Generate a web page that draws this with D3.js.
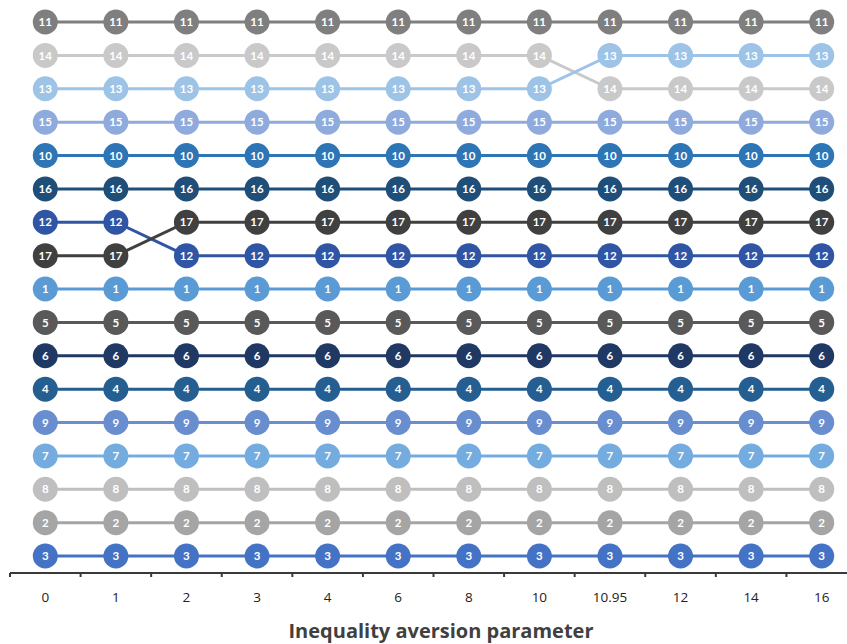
<!DOCTYPE html>
<html><head><meta charset="utf-8">
<script src="https://cdn.jsdelivr.net/npm/d3@7"></script>
<style>body{margin:0;background:#fff}svg{display:block}</style>
</head><body>
<svg id="c" width="847" height="644"></svg>
<script>
const categories = ["0","1","2","3","4","6","8","10","10.95","12","14","16"];
const seriesIds = [11,14,13,15,10,16,12,17,1,5,6,4,9,7,8,2,3];
const ranks = {
  11:[1,1,1,1,1,1,1,1,1,1,1,1],
  14:[2,2,2,2,2,2,2,2,3,3,3,3],
  13:[3,3,3,3,3,3,3,3,2,2,2,2],
  15:[4,4,4,4,4,4,4,4,4,4,4,4],
  10:[5,5,5,5,5,5,5,5,5,5,5,5],
  16:[6,6,6,6,6,6,6,6,6,6,6,6],
  12:[7,7,8,8,8,8,8,8,8,8,8,8],
  17:[8,8,7,7,7,7,7,7,7,7,7,7],
  1:[9,9,9,9,9,9,9,9,9,9,9,9],
  5:[10,10,10,10,10,10,10,10,10,10,10,10],
  6:[11,11,11,11,11,11,11,11,11,11,11,11],
  4:[12,12,12,12,12,12,12,12,12,12,12,12],
  9:[13,13,13,13,13,13,13,13,13,13,13,13],
  7:[14,14,14,14,14,14,14,14,14,14,14,14],
  8:[15,15,15,15,15,15,15,15,15,15,15,15],
  2:[16,16,16,16,16,16,16,16,16,16,16,16],
  3:[17,17,17,17,17,17,17,17,17,17,17,17]
};
const colors = {
  11:"#7f7f7f",14:"#c9c9c9",13:"#9dc3e6",15:"#8faadc",10:"#2e75b6",16:"#1f4e79",
  12:"#2f55a4",17:"#404040",1:"#5b9bd5",5:"#595959",6:"#203864",4:"#255e91",
  9:"#698ed0",7:"#74acdf",8:"#bfbfbf",2:"#a5a5a5",3:"#4472c4"
};
const xAxisTitle = "Inequality aversion parameter";

const svg = d3.select("#c");
const x = d3.scaleBand().domain(categories).range([10, 857]);
const y = d3.scaleLinear().domain([1,17]).range([22,556]);
const cx = c => x(c) + x.bandwidth()/2;

// axis
const axisY = 573;
svg.append("line").attr("x1",10).attr("x2",847).attr("y1",axisY).attr("y2",axisY)
  .attr("stroke","#3a3a3a").attr("stroke-width",2);
const tickXs = categories.map(c=>x(c));
svg.selectAll("line.tick").data(tickXs).enter().append("line")
  .attr("x1",d=>d).attr("x2",d=>d).attr("y1",axisY).attr("y2",axisY+4)
  .attr("stroke","#3a3a3a").attr("stroke-width",2);
svg.selectAll("text.tl").data(categories).enter().append("text")
  .attr("x",d=>cx(d)).attr("y",602).attr("text-anchor","middle")
  .attr("font-family","'Open Sans', sans-serif").attr("font-size",13.5).attr("fill","#222")
  .text(d=>d);
svg.append("text").attr("x",441).attr("y",638).attr("text-anchor","middle")
  .attr("font-family","'Open Sans', sans-serif").attr("font-weight","bold")
  .attr("font-size",20).attr("fill","#404040").text(xAxisTitle);

const line = d3.line().x(d=>cx(d.c)).y(d=>y(d.r));
const data = seriesIds.map(id => ({id, pts: categories.map((c,i)=>({c, r: ranks[id][i]}))}));

svg.selectAll("path.s").data(data).enter().append("path")
  .attr("d",d=>line(d.pts)).attr("fill","none")
  .attr("stroke",d=>colors[d.id]).attr("stroke-width",3);

const g = svg.selectAll("g.s").data(data).enter().append("g");
g.selectAll("circle").data(d=>d.pts.map(p=>({...p,id:d.id}))).enter().append("circle")
  .attr("cx",d=>cx(d.c)).attr("cy",d=>y(d.r)).attr("r",12.5).attr("fill",d=>colors[d.id]);
g.selectAll("text").data(d=>d.pts.map(p=>({...p,id:d.id}))).enter().append("text")
  .attr("x",d=>cx(d.c)).attr("y",d=>y(d.r)).attr("dy","0.36em").attr("text-anchor","middle")
  .attr("font-family","Lato, 'Open Sans', sans-serif").attr("font-weight","bold")
  .attr("font-size",11.5).attr("fill","#fff").text(d=>d.id);
</script>
</body></html>
